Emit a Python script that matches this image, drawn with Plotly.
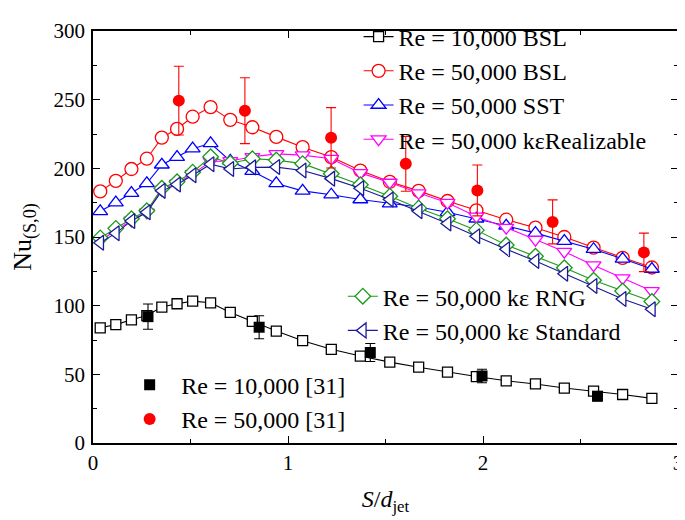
import plotly.graph_objects as go

# Shared S/d_jet positions of the CFD curves
s_cfd = [0.037, 0.117, 0.197, 0.276, 0.353, 0.431, 0.511, 0.603, 0.704, 0.817, 0.940, 1.075,
         1.222, 1.371, 1.522, 1.670, 1.818, 1.966, 2.119, 2.269, 2.417, 2.567, 2.716, 2.866]

nu_10k_bsl = [83.9, 86.2, 89.7, 92.8, 99.0, 101.4, 103.3, 102.1, 95.1, 88.6, 81.5, 74.5,
              68.2, 63.3, 58.9, 55.2, 51.6, 48.4, 45.3, 43.0, 40.0, 37.8, 35.3, 32.5]
nu_50k_bsl = [183.2, 190.9, 199.5, 207.0, 222.4, 228.7, 237.6, 244.6, 235.3, 229.9, 222.9, 215.4,
              208.2, 198.4, 190.2, 183.6, 176.2, 169.4, 162.6, 156.8, 150.0, 142.3, 134.8, 127.8]
nu_50k_sst = [168.7, 175.0, 182.0, 189.0, 202.6, 208.2, 214.3, 218.2, 205.4, 197.9, 189.0, 183.6,
              180.8, 177.3, 174.3, 171.9, 168.0, 163.3, 158.2, 152.8, 147.0, 141.1, 134.1, 126.7]
nu_50k_real = [147.5, 154.5, 162.0, 168.0, 184.5, 189.0, 196.0, 205.0, 205.4, 208.4, 210.5, 209.6,
               207.0, 196.7, 189.7, 182.0, 175.0, 165.0, 156.8, 148.1, 139.3, 129.5, 120.1, 110.7]
nu_50k_rng = [149.3, 156.3, 163.3, 169.1, 185.5, 190.2, 197.2, 208.4, 203.7, 207.0, 206.0, 203.4,
              196.0, 188.0, 179.7, 171.0, 163.3, 155.0, 144.2, 136.0, 127.6, 118.5, 110.7, 103.0]
nu_50k_std = [145.8, 152.8, 161.7, 168.0, 183.6, 188.3, 194.9, 203.0, 199.5, 200.7, 200.9, 198.4,
              192.5, 185.5, 177.3, 168.7, 159.8, 150.5, 141.1, 132.5, 123.2, 114.3, 104.9, 97.4]

# Experimental data [31]
s_exp_10k = [0.282, 0.852, 1.422, 1.995, 2.587]
nu_exp_10k = [92.0, 84.3, 65.9, 48.8, 34.1]
err_exp_10k = [9.2, 8.4, 6.6, 4.9, 3.4]

s_exp_50k = [0.44, 0.779, 1.221, 1.604, 1.971, 2.357, 2.825]
nu_exp_50k = [249.3, 242.0, 222.2, 203.3, 183.9, 161.0, 138.8]
err_exp_50k = [25.0, 24.0, 22.0, 20.0, 18.5, 16.0, 14.0]

x_ticks = [0, 1, 2, 3]
y_ticks = [0, 50, 100, 150, 200, 250, 300]

FONT = "'Liberation Serif', 'Times New Roman', Times, serif"

fig = go.Figure()

def cfd(name, y, color, symbol, size, legend):
    fig.add_trace(go.Scatter(
        x=s_cfd, y=y, name=name, mode="lines+markers", legend=legend,
        line=dict(color=color, width=1.1),
        marker=dict(symbol=symbol, size=size, color="white",
                    line=dict(color=color, width=1.3)),
    ))

cfd("Re = 10,000 BSL", nu_10k_bsl, "black", "square", 10, "legend")
cfd("Re = 50,000 BSL", nu_50k_bsl, "red", "circle", 13, "legend")
cfd("Re = 50,000 SST", nu_50k_sst, "blue", "triangle-up", 13, "legend")
cfd("Re = 50,000 kεRealizable", nu_50k_real, "magenta", "triangle-down", 13, "legend")
cfd("Re = 50,000 kε RNG", nu_50k_rng, "#1a9a1a", "diamond", 12, "legend2")
cfd("Re = 50,000 kε Standard", nu_50k_std, "#1a1a9a", "triangle-left", 13, "legend2")

fig.add_trace(go.Scatter(
    x=s_exp_10k, y=nu_exp_10k, name="Re = 10,000 [31]", mode="markers", legend="legend3",
    marker=dict(symbol="square", size=11, color="black"),
    error_y=dict(type="data", array=err_exp_10k, color="black", thickness=1.1, width=5),
))
fig.add_trace(go.Scatter(
    x=s_exp_50k, y=nu_exp_50k, name="Re = 50,000 [31]", mode="markers", legend="legend3",
    marker=dict(symbol="circle", size=12, color="red"),
    error_y=dict(type="data", array=err_exp_50k, color="red", thickness=1.1, width=5),
))

axis_common = dict(
    showline=True, linecolor="black", linewidth=1.5, mirror="ticks",
    ticks="inside", ticklen=7, tickwidth=1.3, tickcolor="black",
    showgrid=False, zeroline=False, automargin=False,
    tickfont=dict(family=FONT, size=21, color="black"),
)

fig.update_xaxes(
    range=[0, 3], tickvals=x_ticks, ticktext=[str(v) for v in x_ticks],
    ticklabeloverflow="allow",
    minor=dict(dtick=0.5, ticks="inside", ticklen=4, tickwidth=1.3, tickcolor="black"),
    title=dict(text="<i>S</i>/<i>d</i><sub>jet</sub>", font=dict(family=FONT, size=24, color="black"),
               standoff=16),
    **axis_common,
)
fig.update_yaxes(
    range=[0, 300], tickvals=y_ticks, ticktext=[str(v) for v in y_ticks],
    ticklabeloverflow="allow",
    minor=dict(dtick=25, ticks="inside", ticklen=4, tickwidth=1.3, tickcolor="black"),
    ticklabelstandoff=2,
    title=dict(text="Nu<sub>(S,0)</sub>", font=dict(family=FONT, size=26, color="black"),
               standoff=22),
    **axis_common,
)

legend_font = dict(family=FONT, size=24, color="black")
fig.update_layout(
    width=677, height=512,
    margin=dict(l=85, r=7, t=7, b=77),
    paper_bgcolor="white", plot_bgcolor="white",
    font=dict(family=FONT, color="black"),
    legend=dict(x=0.454, y=1.04, xanchor="left", yanchor="top", bgcolor="rgba(0,0,0,0)",
                font=legend_font, tracegroupgap=0),
    legend2=dict(x=0.427, y=0.41, xanchor="left", yanchor="top", bgcolor="rgba(0,0,0,0)",
                 font=legend_font, tracegroupgap=0),
    legend3=dict(x=0.043, y=0.195, xanchor="left", yanchor="top", bgcolor="rgba(0,0,0,0)",
                 font=legend_font, tracegroupgap=0, itemwidth=53),
)

fig.write_html("out.html")
